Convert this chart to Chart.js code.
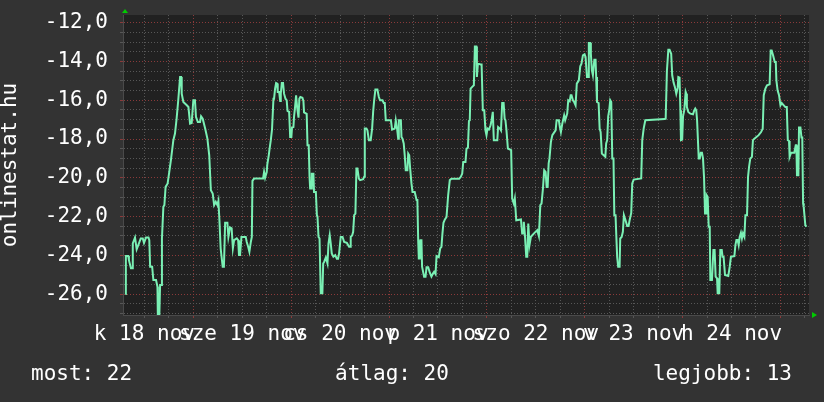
<!DOCTYPE html>
<html>
<head>
<meta charset="utf-8">
<script src="https://cdn.jsdelivr.net/npm/chart.js@4.4.1/dist/chart.umd.min.js"></script>
<style>
html, body { margin: 0; padding: 0; background: #333; }
canvas { display: block; }
</style>
</head>
<body>
<canvas id="graph" width="824" height="402"></canvas>
<script>
// day labels, centred at noon of each day (hours counted from nov 18 00:00)
const dayLabels = ['k 18 nov', 'sze 19 nov', 'cs 20 nov', 'p 21 nov', 'szo 22 nov', 'v 23 nov', 'h 24 nov'];
const footer = ['most: 22', 'átlag: 20', 'legjobb: 13'];
const axisTitle = 'onlinestat.hu';

// [hours since nov 18 00:00, temperature]
const readings = [
    // nov 18
    [7.3, -26.0], [7.45, -24.04], [8.05, -24.04], [8.2, -24.25], [8.7, -24.67], [9.0, -24.67], [9.15, -23.39], [9.7, -23.08], [10.1, -23.69], [10.5, -23.47],
    [11.1, -23.13], [11.6, -23.13], [11.9, -23.36], [12.4, -23.08], [13.0, -23.08], [13.2, -23.22], [13.4, -24.59], [13.9, -24.59], [14.2, -25.28], [14.85, -25.28],
    [15.2, -25.62], [15.3, -27.2], [15.65, -27.2], [15.85, -25.53], [16.15, -25.53], [16.3, -23.13], [16.65, -21.5], [16.9, -21.41], [17.2, -20.47], [17.7, -20.29],
    [18.1, -19.7], [18.5, -19.09], [19.1, -18.06], [19.5, -17.72], [19.9, -16.95], [20.3, -16.0], [20.75, -14.8], [21.0, -14.8], [21.15, -15.66], [21.55, -16.09],
    [22.4, -16.26], [22.8, -16.35], [23.2, -17.2], [23.6, -17.17],
    // nov 19
    [24.0, -16.0], [24.4, -16.0], [24.65, -16.86], [25.1, -17.12], [25.65, -17.12], [25.9, -16.83],
    [26.3, -16.95], [26.9, -17.46], [27.45, -17.98], [27.9, -18.84], [28.3, -20.64], [28.75, -20.81], [29.1, -21.41], [29.5, -21.24], [29.9, -21.41], [30.15, -21.19],
    [30.4, -22.19], [30.7, -23.64], [31.2, -24.59], [31.5, -24.59], [31.8, -22.32], [32.35, -22.32], [32.6, -23.05], [33.0, -22.56], [33.4, -22.61], [33.7, -23.64],
    [34.0, -23.22], [34.65, -23.13], [35.0, -23.22], [35.2, -23.99], [35.45, -23.99], [35.8, -23.05], [36.85, -23.05], [37.1, -23.31], [37.45, -23.56], [37.75, -23.82],
    [38.1, -23.31], [38.35, -23.05], [38.5, -20.16], [38.9, -20.04], [41.1, -20.04], [41.35, -19.7], [41.6, -20.0], [42.0, -19.7], [42.15, -19.3], [42.5, -18.84],
    [42.65, -18.58], [43.0, -18.06], [43.3, -17.51], [43.65, -15.92], [43.8, -15.92], [44.05, -15.4], [44.3, -15.11], [44.55, -15.14], [44.7, -15.57], [45.05, -15.57],
    [45.3, -16.04], [45.45, -15.66], [45.7, -15.11], [46.0, -15.11], [46.25, -15.66], [46.6, -15.92], [46.9, -16.0], [47.1, -16.55], [47.5, -16.6], [47.75, -17.89],
    // nov 20
    [48.05, -17.89], [48.2, -17.41], [48.55, -17.38], [48.7, -16.86], [48.95, -16.35], [49.2, -15.74], [49.45, -16.35], [49.8, -16.9], [50.0, -15.92], [50.25, -15.83],
    [50.75, -15.87], [51.0, -16.04], [51.15, -16.62], [51.8, -16.7], [52.0, -18.32], [52.3, -18.32], [52.5, -19.95], [52.65, -20.55], [52.9, -20.55], [53.05, -19.79],
    [53.45, -19.79], [53.6, -20.73], [54.05, -20.73], [54.3, -21.93], [54.45, -22.0], [54.7, -23.05], [54.95, -23.13], [55.25, -25.96], [55.65, -25.96], [55.85, -24.42],
    [56.1, -24.33], [56.5, -24.11], [56.9, -24.42], [57.15, -23.39], [57.45, -22.96], [57.7, -23.39], [57.95, -23.9], [58.35, -24.07], [58.8, -23.99], [59.2, -24.18],
    [59.5, -24.18], [59.75, -23.9], [60.15, -23.05], [60.6, -23.05], [61.0, -23.31], [61.65, -23.36], [62.2, -23.56], [62.45, -23.56],
    [62.6, -23.05], [62.95, -22.98], [63.2, -22.79], [63.45, -21.93], [63.75, -21.85], [64.0, -19.52], [64.25, -19.52], [64.6, -20.04], [64.9, -20.12], [65.65, -20.07],
    [65.9, -19.95], [66.05, -17.46], [66.45, -17.46], [66.7, -17.55], [67.05, -18.06], [67.5, -18.06], [67.85, -17.46], [68.1, -16.6], [68.35, -16.0], [68.65, -15.45],
    [69.15, -15.45], [69.5, -15.83], [69.8, -16.0], [70.4, -16.0], [70.7, -16.14], [70.95, -16.14], [71.2, -17.03],
    // nov 21
    [72.45, -17.03], [72.75, -17.51], [73.4, -17.46], [73.65, -17.03], [74.0, -17.51], [74.25, -17.98], [74.4, -17.03], [74.9, -17.03], [75.05, -17.89], [75.3, -17.98],
    [75.6, -18.23], [75.85, -18.84], [76.1, -19.61], [76.5, -19.61], [76.7, -18.75], [76.95, -18.84], [77.15, -19.45], [77.5, -20.29], [77.75, -20.73], [78.3, -20.73],
    [78.75, -21.15], [78.95, -21.15], [79.15, -23.22], [79.3, -24.16], [79.55, -24.16], [79.7, -23.22], [79.95, -23.22], [80.1, -24.59], [80.6, -25.1], [80.95, -25.1],
    [81.2, -24.62], [81.6, -24.62], [82.0, -24.9], [82.4, -25.1], [82.8, -24.93], [83.05, -24.85], [83.4, -24.97], [83.65, -24.04], [84.2, -24.1], [84.55, -23.64],
    [84.85, -23.56], [85.1, -22.87], [85.35, -22.32], [85.7, -22.15], [86.1, -22.02], [86.5, -20.9], [86.9, -20.12], [87.3, -20.05], [89.2, -20.05], [89.6, -19.95],
    [89.95, -19.78], [90.2, -19.18], [90.75, -19.18], [91.0, -18.49], [91.35, -18.45], [91.6, -17.07], [91.8, -17.03], [92.0, -15.4], [92.4, -15.31], [92.8, -15.23],
    [93.05, -13.22], [93.4, -13.22], [93.55, -14.8], [93.8, -14.11], [94.45, -14.15], [94.7, -14.15], [95.0, -16.52], [95.35, -16.52], [95.65, -17.55],
    // nov 22
    [95.9, -17.8], [96.15, -17.46], [96.5, -17.51], [96.9, -17.29], [97.15, -17.03], [97.45, -16.6], [97.7, -18.06], [98.55, -18.06], [98.75, -17.38], [99.2, -17.46],
    [99.45, -17.55], [99.75, -16.14], [100.1, -16.14], [100.35, -16.95], [100.55, -17.03], [100.8, -17.55], [101.15, -18.49], [101.95, -18.57], [102.2, -21.07], [102.6, -21.33],
    [102.85, -21.07], [103.2, -22.19], [104.35, -22.15], [104.65, -22.87], [104.9, -22.87], [105.05, -22.27], [105.3, -22.87], [105.65, -24.08], [105.9, -24.08], [106.15, -22.36],
    [106.45, -23.47], [106.8, -23.04], [107.55, -22.87], [108.35, -22.7], [108.75, -23.01], [109.1, -21.41], [109.4, -21.33], [109.75, -20.55], [110.05, -19.61], [110.4, -19.7],
    [110.65, -20.47], [110.9, -20.47], [111.15, -19.26], [111.35, -19.0], [111.7, -18.15], [112.05, -17.8], [112.85, -17.55], [113.1, -17.03], [113.65, -17.03], [113.9, -17.38],
    [114.15, -17.64], [114.5, -17.2], [114.95, -16.78], [115.2, -17.03], [115.7, -16.69], [115.95, -16.0], [116.3, -16.05], [116.55, -15.74], [116.75, -15.74], [117.1, -16.0],
    [117.4, -16.09], [117.75, -16.26], [118.05, -15.14], [118.55, -14.97], [118.9, -14.25], [119.2, -14.11], [119.55, -13.68],
    // nov 23
    [119.95, -13.63], [120.2, -13.77], [120.55, -14.8],
    [120.85, -14.8], [121.0, -13.05], [121.35, -13.05], [121.5, -13.6], [121.75, -14.46], [122.0, -14.71], [122.35, -13.91], [122.65, -13.91], [122.8, -14.8], [123.0, -16.09],
    [123.4, -16.14], [123.65, -17.46], [123.9, -17.64], [124.2, -18.75], [125.05, -18.92], [125.25, -18.23], [125.5, -18.06], [125.75, -16.83], [126.0, -16.52], [126.25, -16.0],
    [126.5, -16.09], [126.75, -19.0], [127.05, -19.0], [127.25, -21.93], [127.55, -21.93], [127.75, -23.05], [127.95, -24.08], [128.2, -24.59], [128.55, -24.59], [128.7, -23.13],
    [129.05, -23.05], [129.35, -22.79], [129.6, -21.93], [130.0, -22.19], [130.4, -22.49], [130.75, -22.49], [131.0, -22.19], [131.4, -21.81], [131.65, -20.29], [132.0, -20.09],
    [133.85, -20.03], [134.1, -18.06], [134.45, -17.46], [134.85, -17.03], [139.6, -16.97], [139.85, -16.95], [140.15, -14.49], [140.5, -13.39], [140.8, -13.39], [141.2, -13.6],
    [141.45, -14.71], [141.8, -15.1], [142.1, -15.31], [142.45, -15.66], [142.8, -15.35], [142.95, -14.8], [143.25, -14.83],
    // nov 24
    [143.45, -16.52], [143.6, -18.06], [143.9, -18.03],
    [144.1, -16.83], [144.4, -16.52], [144.75, -15.57], [144.9, -15.66], [145.05, -16.35], [145.4, -16.6], [145.9, -16.69], [146.55, -16.72], [146.85, -16.52], [147.1, -16.43],
    [147.35, -16.52], [147.55, -17.03], [147.75, -17.03], [147.95, -19.0], [148.2, -19.0], [148.45, -18.71], [148.75, -18.71], [149.0, -19.0], [149.25, -19.95], [149.5, -21.84],
    [149.75, -21.84], [149.9, -20.9], [150.15, -20.99], [150.4, -22.53], [150.65, -22.53], [150.8, -25.28], [151.2, -25.28], [151.55, -23.72], [151.85, -23.72], [152.1, -25.1],
    [152.45, -25.19], [152.6, -25.96], [153.0, -25.96], [153.25, -23.72], [153.6, -23.72], [153.8, -24.07], [154.05, -24.07], [154.4, -25.02], [155.2, -25.07], [155.55, -24.59],
    [155.85, -24.08], [156.7, -24.04], [156.95, -23.47], [157.2, -23.21], [157.5, -23.21], [157.75, -23.47], [158.0, -23.05], [158.3, -22.84], [158.55, -23.13], [158.8, -22.87],
    [159.15, -23.05], [159.4, -21.93], [159.8, -21.93], [160.05, -19.95], [160.3, -19.44], [160.6, -19.0], [161.0, -18.92], [161.25, -18.06], [161.6, -17.98], [162.65, -17.8],
    [163.25, -17.64], [163.65, -17.46], [163.9, -15.74], [164.3, -15.4], [164.7, -15.23], [165.35, -15.18], [165.6, -13.43], [165.85, -13.43], [166.2, -13.69], [166.6, -14.03],
    [166.85, -14.03], [167.0, -14.97], [167.3, -15.49], [167.65, -15.74],
    // nov 25
    [168.0, -16.26], [168.3, -16.14], [169.2, -16.35], [169.55, -16.35], [169.8, -18.06], [170.1, -18.1],
    [170.25, -18.92], [170.6, -18.71], [171.4, -18.71], [171.75, -18.32], [171.9, -18.32], [172.05, -19.87], [172.4, -19.87], [172.55, -17.41], [172.9, -17.41], [173.15, -17.92],
    [173.35, -17.92], [173.55, -21.32], [173.7, -21.5], [174.1, -22.44], [174.35, -22.53]
];

// grid: every 6 hours on x, every 0.5 degree on y
const xGrid = [];
for (let h = 12; h <= 174; h += 6) xGrid.push(h);
const yGrid = [];
for (let v = -27; v <= -12; v += 0.5) yGrid.push(v);

const lineColor = '#7af0b4';
const minorGrid = '#575757';
const majorGrid = '#8a3a3a';
const textColor = '#ffffff';
const mono = 'DejaVu Sans Mono';

const rrdFrame = {
    id: 'rrdFrame',
    beforeDraw(chart) {
        const ctx = chart.ctx;
        const a = chart.chartArea;
        ctx.save();
        ctx.fillStyle = '#333333';
        ctx.fillRect(0, 0, chart.width, chart.height);
        ctx.fillStyle = '#212121';
        ctx.fillRect(a.left, a.top, a.right - a.left, a.bottom - a.top);
        ctx.restore();
    },
    afterDraw(chart) {
        const ctx = chart.ctx;
        const a = chart.chartArea;
        ctx.save();
        ctx.font = '21px "' + mono + '"';
        ctx.fillStyle = textColor;
        ctx.textBaseline = 'alphabetic';
        ctx.textAlign = 'left';
        ctx.fillText(footer[0], 31, 380);
        ctx.textAlign = 'center';
        ctx.fillText(footer[1], 392, 380);
        ctx.textAlign = 'right';
        ctx.fillText(footer[2], 792, 380);
        // axis arrows
        ctx.fillStyle = '#00cc00';
        ctx.beginPath();
        ctx.moveTo(a.left + 2, a.top - 6);
        ctx.lineTo(a.left - 1, a.top - 2);
        ctx.lineTo(a.left + 5, a.top - 2);
        ctx.fill();
        ctx.beginPath();
        ctx.moveTo(a.right + 8, a.bottom);
        ctx.lineTo(a.right + 3, a.bottom - 3);
        ctx.lineTo(a.right + 3, a.bottom + 3);
        ctx.fill();
        ctx.restore();
    }
};

new Chart(document.getElementById('graph'), {
    type: 'line',
    data: {
        datasets: [{
            data: readings.map(r => ({ x: r[0], y: r[1] })),
            borderColor: lineColor,
            borderWidth: 2,
            pointRadius: 0,
            tension: 0,
            fill: false
        }]
    },
    options: {
        responsive: false,
        animation: false,
        devicePixelRatio: 1,
        layout: { padding: { top: 15, right: 15, left: 0, bottom: 0 } },
        plugins: { legend: { display: false }, tooltip: { enabled: false } },
        scales: {
            x: {
                type: 'linear',
                min: 6.75,
                max: 175,
                afterBuildTicks: s => { s.ticks = xGrid.map(v => ({ value: v })); },
                afterFit: s => {
                    s.height = 87;
                    s.paddingLeft = 0;
                    s.paddingRight = 0;
                },
                grid: {
                    color: c => (c.tick && c.tick.value % 24 === 0) ? majorGrid : minorGrid,
                    lineWidth: 1,
                    tickLength: 3
                },
                border: { display: true, color: '#4a4a4a', dash: [1, 2] },
                ticks: {
                    autoSkip: false,
                    maxRotation: 0,
                    padding: 4,
                    color: textColor,
                    font: { family: mono, size: 21 },
                    callback: v => (v % 24 === 12) ? dayLabels[(v - 12) / 24] : ''
                }
            },
            y: {
                type: 'linear',
                min: -27.08,
                max: -11.6,
                afterBuildTicks: s => { s.ticks = yGrid.map(v => ({ value: v })); },
                afterFit: s => {
                    s.width = 123;
                    s.paddingTop = 0;
                    s.paddingBottom = 0;
                },
                grid: {
                    color: c => (c.tick && c.tick.value % 2 === 0) ? majorGrid : minorGrid,
                    lineWidth: 1,
                    tickLength: 3
                },
                border: { display: true, color: '#4a4a4a', dash: [1, 2] },
                title: {
                    display: true,
                    text: axisTitle,
                    color: textColor,
                    padding: 0,
                    font: { family: mono, size: 21, lineHeight: 1.0 }
                },
                ticks: {
                    autoSkip: false,
                    padding: 12,
                    color: textColor,
                    font: { family: mono, size: 21 },
                    callback: v => (v % 2 === 0) ? v.toFixed(1).replace('.', ',') : ''
                }
            }
        }
    },
    plugins: [rrdFrame]
});
</script>
</body>
</html>
